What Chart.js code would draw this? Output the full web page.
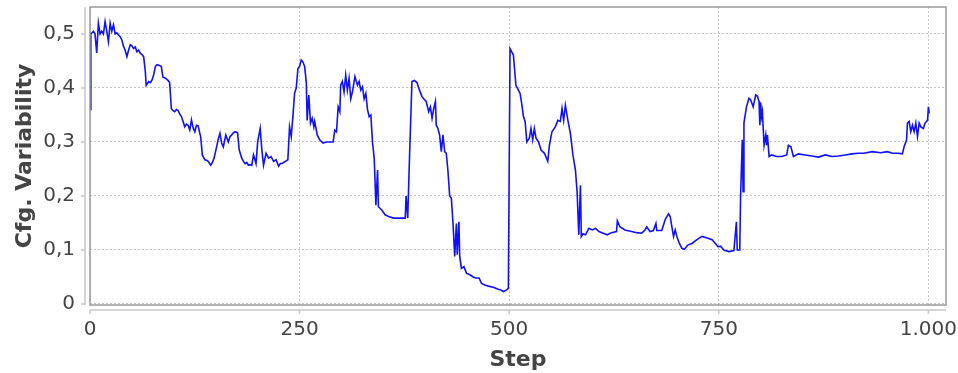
<!DOCTYPE html>
<html>
<head>
<meta charset="utf-8">
<script src="https://cdn.jsdelivr.net/npm/chart.js@4"></script>
<style>
  html, body { margin: 0; padding: 0; background: #fff; }
  #wrap { width: 958px; height: 373px; }
</style>
</head>
<body>
<div id="wrap"><canvas id="chart" width="958" height="373"></canvas></div>
<script>
// values
const steps = [
  0, 1, 4, 6, 8, 10, 12, 14, 16, 18, 20, 22, 24, 26, 28, 30, 32, 34, 36, 38,
  40, 42, 44, 46, 48, 50, 52, 54, 56, 58, 60, 62, 64, 66, 67, 70, 72, 74, 76, 78,
  80, 82, 85, 87, 90, 93, 95, 97, 99, 101, 103, 105, 107, 109, 111, 113, 115, 117, 119, 121,
  123, 125, 127, 129, 131, 132, 134, 137, 139, 141, 144, 146, 148, 151, 153, 155, 157, 159, 162, 165,
  167, 169, 171, 173, 176, 178, 181, 183, 185, 187, 189, 191, 193, 195, 198, 200, 203, 205, 207, 210,
  213, 216, 219, 222, 225, 227, 229, 231, 233, 236, 238, 240, 242, 244, 246, 248, 250, 252, 254, 256,
  258, 259, 261, 263, 265, 267, 268, 271, 274, 278, 282, 286, 290, 292, 294, 296, 298, 299, 301, 303,
  305, 307, 309, 311, 313, 316, 319, 321, 323, 325, 327, 329, 331, 333, 335, 337, 339, 341, 343, 344,
  348, 352, 356, 362, 370, 376, 377, 379, 381, 384, 387, 390, 393, 396, 398, 401, 404, 406, 408, 410,
  412, 413, 415, 417, 419, 421, 423, 425, 427, 429, 431, 433, 435, 437, 438, 440, 441, 443, 446, 449,
  453, 457, 460, 464, 467, 471, 475, 481, 487, 490, 493, 497, 499, 501, 503, 505, 508, 511, 513, 515,
  517, 519, 521, 524, 526, 528, 530, 532, 535, 538, 542, 546, 548, 551, 555, 558, 561, 563, 565, 567,
  570, 573, 576, 579, 581, 583, 585, 586, 588, 591, 595, 599, 603, 607, 612, 617, 622, 628, 629, 632,
  638, 646, 652, 658, 662, 664, 668, 672, 675, 676, 682, 686, 690, 692, 694, 696, 698, 700, 703, 706,
  709, 713, 718, 724, 730, 736, 742, 746, 749, 752, 756, 762, 768, 771, 772, 775, 776, 778, 779, 780,
  783, 786, 788, 791, 794, 796, 798, 799, 800, 801, 802, 804, 806, 807, 808, 810, 813, 819, 825, 831,
  833, 836, 839, 845, 853, 861, 869, 877, 885, 893, 901, 909, 916, 923, 933, 943, 951, 957, 964, 969,
  971, 974, 975, 977, 979, 981, 983, 985, 987, 989, 991, 994, 996, 999, 1000, 1001
];
const variability = [
  0.36, 0.50, 0.505, 0.50, 0.465, 0.52, 0.50, 0.505, 0.50, 0.523, 0.505, 0.486, 0.52, 0.505, 0.517, 0.50, 0.502, 0.498, 0.495, 0.489,
  0.477, 0.47, 0.458, 0.47, 0.48, 0.478, 0.473, 0.476, 0.467, 0.47, 0.464, 0.462, 0.458, 0.43, 0.405, 0.412, 0.41, 0.415, 0.425, 0.44,
  0.443, 0.442, 0.44, 0.42, 0.418, 0.414, 0.41, 0.362, 0.358, 0.356, 0.36, 0.358, 0.352, 0.347, 0.338, 0.328, 0.333, 0.331, 0.322, 0.341,
  0.326, 0.319, 0.331, 0.33, 0.316, 0.31, 0.276, 0.267, 0.266, 0.264, 0.257, 0.262, 0.27, 0.291, 0.305, 0.316, 0.298, 0.291, 0.313, 0.30,
  0.31, 0.313, 0.317, 0.319, 0.317, 0.285, 0.27, 0.264, 0.26, 0.262, 0.257, 0.258, 0.257, 0.276, 0.26, 0.30, 0.325, 0.285, 0.257, 0.279,
  0.27, 0.273, 0.264, 0.267, 0.255, 0.26, 0.26, 0.262, 0.264, 0.267, 0.328, 0.31, 0.347, 0.39, 0.40, 0.436, 0.44, 0.452, 0.448, 0.44,
  0.41, 0.34, 0.387, 0.335, 0.344, 0.328, 0.338, 0.313, 0.304, 0.298, 0.30, 0.30, 0.30, 0.322, 0.319, 0.365, 0.356, 0.405, 0.412, 0.393,
  0.424, 0.396, 0.418, 0.38, 0.393, 0.421, 0.405, 0.412, 0.396, 0.402, 0.38, 0.39, 0.36, 0.347, 0.35, 0.298, 0.27, 0.183, 0.248, 0.18,
  0.174, 0.165, 0.162, 0.159, 0.159, 0.159, 0.20, 0.159, 0.267, 0.412, 0.414, 0.41, 0.396, 0.384, 0.38, 0.375, 0.356, 0.365, 0.344, 0.362,
  0.375, 0.331, 0.325, 0.313, 0.282, 0.313, 0.282, 0.279, 0.245, 0.20, 0.196, 0.149, 0.088, 0.149, 0.091, 0.152, 0.088, 0.066, 0.069, 0.057,
  0.054, 0.05, 0.048, 0.048, 0.038, 0.035, 0.033, 0.031, 0.027, 0.026, 0.023, 0.026, 0.029, 0.473, 0.467, 0.461, 0.405, 0.396, 0.39, 0.37,
  0.347, 0.338, 0.30, 0.307, 0.325, 0.304, 0.325, 0.307, 0.30, 0.285, 0.279, 0.264, 0.294, 0.319, 0.328, 0.34, 0.338, 0.362, 0.34, 0.368,
  0.34, 0.316, 0.276, 0.248, 0.208, 0.128, 0.22, 0.125, 0.13, 0.128, 0.14, 0.137, 0.14, 0.134, 0.131, 0.128, 0.132, 0.134, 0.154, 0.143,
  0.137, 0.134, 0.132, 0.131, 0.137, 0.143, 0.134, 0.136, 0.149, 0.136, 0.136, 0.156, 0.167, 0.162, 0.143, 0.125, 0.137, 0.125, 0.112, 0.103,
  0.101, 0.109, 0.112, 0.119, 0.125, 0.122, 0.119, 0.112, 0.106, 0.107, 0.10, 0.097, 0.099, 0.152, 0.10, 0.10, 0.199, 0.304, 0.208, 0.335,
  0.365, 0.381, 0.378, 0.365, 0.387, 0.385, 0.375, 0.331, 0.372, 0.347, 0.356, 0.294, 0.313, 0.294, 0.313, 0.273, 0.276, 0.273, 0.273, 0.276,
  0.294, 0.291, 0.273, 0.278, 0.276, 0.274, 0.272, 0.276, 0.273, 0.274, 0.276, 0.278, 0.279, 0.279, 0.282, 0.28, 0.282, 0.279, 0.279, 0.278,
  0.291, 0.304, 0.335, 0.338, 0.319, 0.331, 0.319, 0.335, 0.31, 0.335, 0.328, 0.325, 0.335, 0.34, 0.365, 0.353
];

const xTicks = [0, 250, 500, 750, 1000];
const xTickLabels = ['0', '250', '500', '750', '1.000'];
const yTicks = [0, 0.1, 0.2, 0.3, 0.4, 0.5];
const yTickLabels = ['0', '0,1', '0,2', '0,3', '0,4', '0,5'];

const FONT = 'DejaVu Sans';

// plot frame + offset axis lines like the original
const framePlugin = {
    id: 'frame',
    afterDraw(chart) {
        const ctx = chart.ctx;
        const a = chart.chartArea;
        ctx.save();
        ctx.strokeStyle = '#999';
        ctx.lineWidth = 1.5;
        ctx.strokeRect(a.left, a.top, a.right - a.left, a.bottom - a.top);

        ctx.strokeStyle = '#c8c8c8';
        ctx.lineWidth = 1.5;
        ctx.beginPath();
        ctx.moveTo(a.left - 5, a.top);
        ctx.lineTo(a.left - 5, a.bottom);
        ctx.moveTo(a.left, a.bottom + 5);
        ctx.lineTo(a.right, a.bottom + 5);
        // tick marks
        const ys = chart.scales.y;
        yTicks.forEach(v => {
            const py = ys.getPixelForValue(v);
            ctx.moveTo(a.left - 9, py);
            ctx.lineTo(a.left - 5, py);
        });
        const xs = chart.scales.x;
        xTicks.forEach(v => {
            const px = xs.getPixelForValue(v);
            ctx.moveTo(px, a.bottom + 5);
            ctx.lineTo(px, a.bottom + 9);
        });
        ctx.stroke();
        ctx.restore();
    }
};

const ctx = document.getElementById('chart').getContext('2d');
new Chart(ctx, {
    type: 'line',
    data: {
        datasets: [{
            data: steps.map((s, i) => ({ x: s, y: variability[i] })),
            borderColor: '#1010ff',
            borderWidth: 1.6,
            pointRadius: 0,
            tension: 0,
            fill: false
        }]
    },
    options: {
        responsive: false,
        animation: false,
        layout: { padding: { top: 7, right: 12, left: 0, bottom: 0 } },
        plugins: {
            legend: { display: false },
            tooltip: { enabled: false }
        },
        scales: {
            x: {
                type: 'linear',
                min: 0,
                max: 1021,
                afterBuildTicks: function(scale) {
                    scale.ticks = xTicks.map(v => ({ value: v }));
                },
                afterFit: function(scale) {
                    scale.height = 68;
                    scale.paddingLeft = 0;
                    scale.paddingRight = 0;
                },
                ticks: {
                    padding: 13,
                    color: '#444',
                    font: { family: FONT, size: 20 },
                    maxRotation: 0,
                    callback: function(value) {
                        const i = xTicks.indexOf(value);
                        return i >= 0 ? xTickLabels[i] : '';
                    }
                },
                grid: { color: '#c4c4c4', lineWidth: 1, drawTicks: false },
                border: { display: false, dash: [2, 2] },
                title: {
                    display: true,
                    text: 'Step',
                    color: '#444',
                    font: { family: FONT, size: 22, weight: 'bold' },
                    padding: { top: 0, bottom: 0 }
                }
            },
            y: {
                min: -0.002,
                max: 0.55,
                afterBuildTicks: function(scale) {
                    scale.ticks = yTicks.map(v => ({ value: v }));
                },
                afterFit: function(scale) {
                    scale.width = 90;
                    scale.paddingTop = 0;
                    scale.paddingBottom = 0;
                },
                ticks: {
                    padding: 15,
                    color: '#444',
                    font: { family: FONT, size: 20 },
                    callback: function(value) {
                        const i = yTicks.findIndex(t => Math.abs(t - value) < 1e-9);
                        return i >= 0 ? yTickLabels[i] : '';
                    }
                },
                grid: { color: '#c4c4c4', lineWidth: 1, drawTicks: false },
                border: { display: false, dash: [2, 2] },
                title: {
                    display: true,
                    text: 'Cfg. Variability',
                    color: '#444',
                    font: { family: FONT, size: 22, weight: 'bold' },
                    padding: { top: 12, bottom: 0 }
                }
            }
        }
    },
    plugins: [framePlugin]
});
</script>
</body>
</html>
